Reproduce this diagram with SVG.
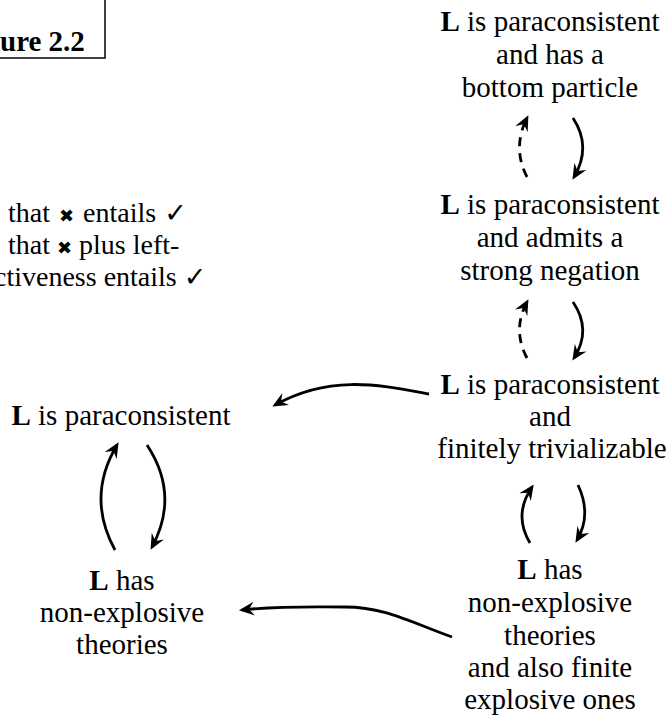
<svg xmlns="http://www.w3.org/2000/svg" width="668" height="720" viewBox="0 0 668 720">
<style>
text{font-family:"Liberation Serif","Times New Roman",serif;font-size:29px;fill:#000;text-anchor:middle}
.b{font-weight:bold}
.lg{font-size:28px;text-anchor:start}
.x{font-family:"DejaVu Sans",sans-serif;font-size:18px;font-weight:bold}
.ck{font-family:"DejaVu Sans",sans-serif;font-size:27px}
.c{fill:none;stroke:#000;stroke-width:2.8;stroke-linecap:butt}
.d{stroke-dasharray:9,7}
</style>
<defs>
<marker id="ah" viewBox="0 0 10 10" refX="8" refY="5" markerWidth="5.5" markerHeight="5.5" orient="auto" markerUnits="strokeWidth">
<path d="M0,0.5 L10,5 L0,9.5 L3.5,5 z" fill="#000"/>
</marker>
</defs>
<g id="figlabel">
<rect x="-10" y="-10" width="115" height="68" fill="#fff" stroke="#000" stroke-width="1.5"/>
<text class="b" x="0" y="51" style="text-anchor:start;font-size:29px">ure 2.2</text>
</g>
<g id="legend">
<text class="lg" x="8" y="222">that <tspan class="x" dx="2">✖</tspan><tspan dx="2"> entails</tspan> <tspan class="ck" dx="1">✓</tspan></text>
<text class="lg" x="8" y="254">that <tspan class="x">✖</tspan> plus left-</text>
<text class="lg" x="-6" y="286">ctiveness entails <tspan class="ck">✓</tspan></text>
</g>
<g id="n1">
<text x="550" y="31"><tspan class="b">L</tspan> is paraconsistent</text>
<text x="550" y="64">and has a</text>
<text x="550" y="97">bottom particle</text>
</g>
<g id="n2">
<text x="550" y="214"><tspan class="b">L</tspan> is paraconsistent</text>
<text x="550" y="247">and admits a</text>
<text x="550" y="280">strong negation</text>
</g>
<g id="n3">
<text x="550" y="394"><tspan class="b">L</tspan> is paraconsistent</text>
<text x="550" y="426">and</text>
<text x="552" y="458">finitely trivializable</text>
</g>
<g id="n4">
<text x="550" y="579"><tspan class="b">L</tspan> has</text>
<text x="550" y="612">non-explosive</text>
<text x="550" y="645">theories</text>
<text x="550" y="677">and also finite</text>
<text x="550" y="709">explosive ones</text>
</g>
<g id="n5">
<text x="121" y="425"><tspan class="b">L</tspan> is paraconsistent</text>
</g>
<g id="n6">
<text x="122" y="590"><tspan class="b">L</tspan> has</text>
<text x="122" y="622">non-explosive</text>
<text x="122" y="654">theories</text>
</g>
<g id="connectors">
<path class="c d" d="M527,177 Q512,148 527,118" marker-end="url(#ah)"/>
<path class="c" d="M573,118 Q592,147 574,177" marker-end="url(#ah)"/>
<path class="c d" d="M527,358 Q512,330 527,302" marker-end="url(#ah)"/>
<path class="c" d="M573,302 Q592,330 574,358" marker-end="url(#ah)"/>
<path class="c" d="M530,543 Q513,515 532,487" marker-end="url(#ah)"/>
<path class="c" d="M578,485 Q592,515 577,540" marker-end="url(#ah)"/>
<path class="c" d="M115,550 Q86,497 117,445" marker-end="url(#ah)"/>
<path class="c" d="M147,445 Q180,495 152,547" marker-end="url(#ah)"/>
<path class="c" d="M429,394 C380,385 330,374 275,405" marker-end="url(#ah)"/>
<path class="c" d="M452,637 C410,622 385,607 345,607 C305,607 280,606 242,610" marker-end="url(#ah)"/>
</g>
</svg>
